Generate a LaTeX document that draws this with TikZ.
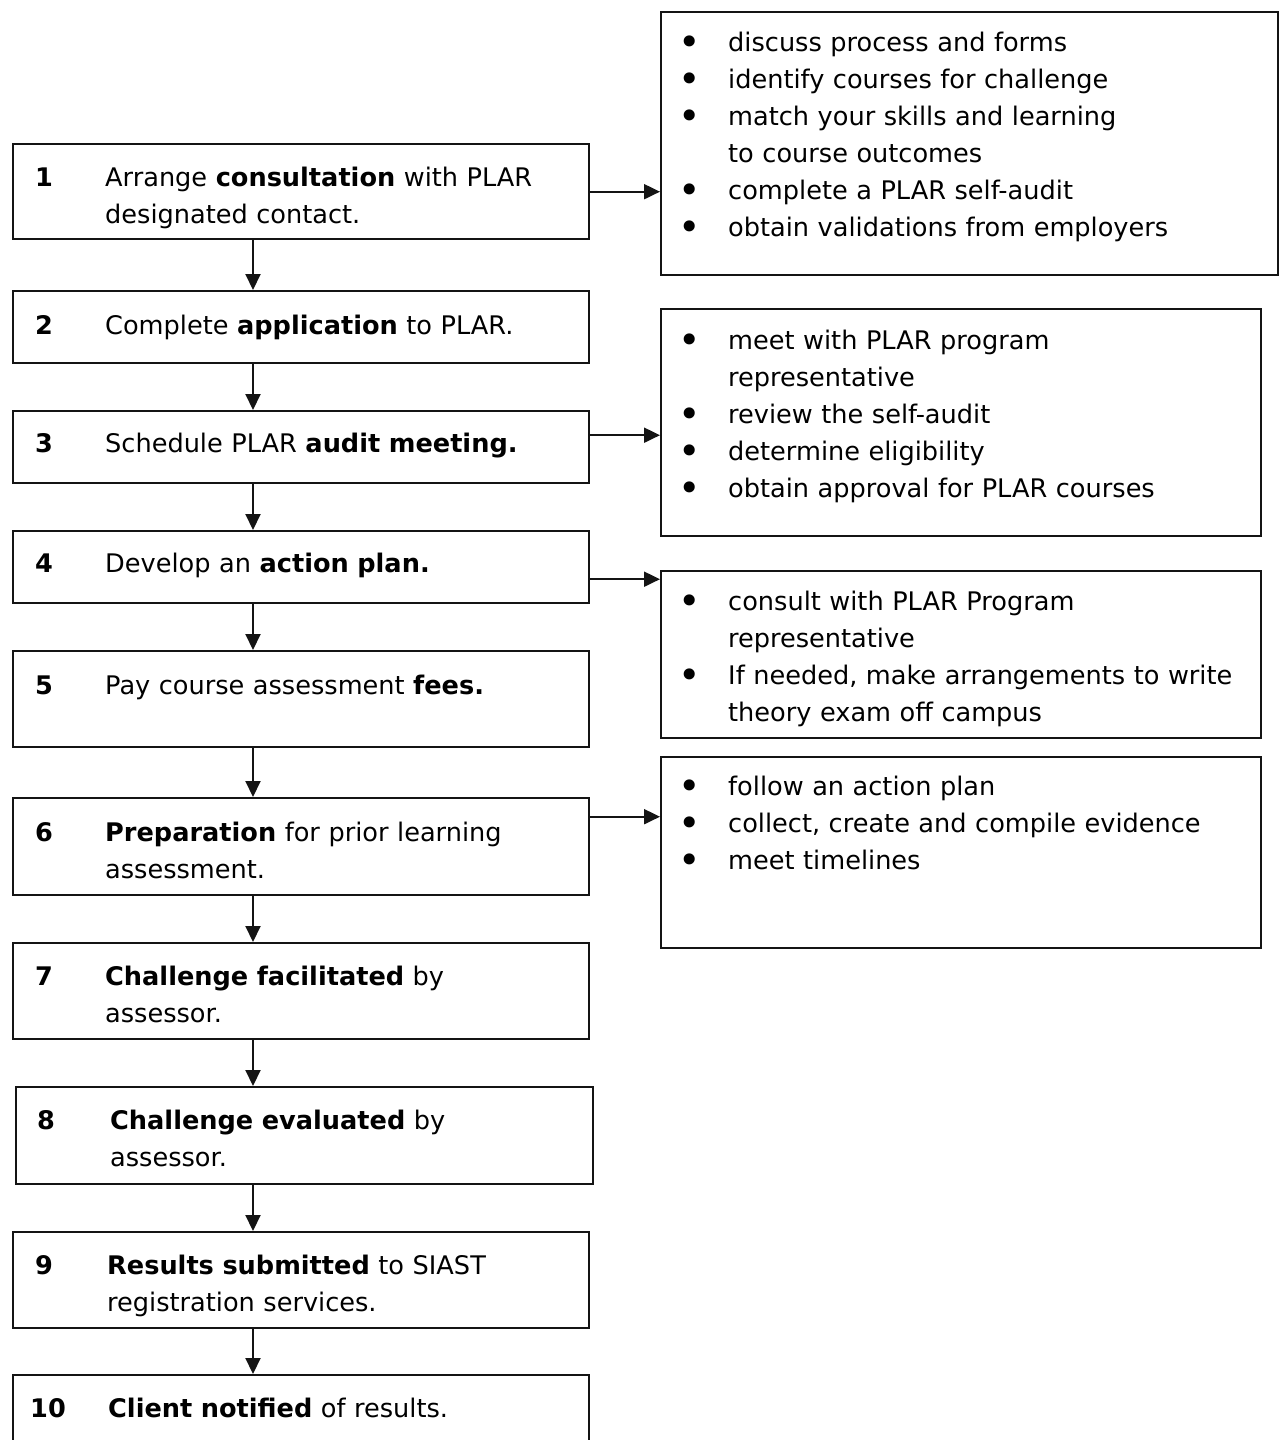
\documentclass[tikz,border=0pt]{standalone}
\usepackage{fontspec}
\setmainfont{DejaVu Sans}
\usetikzlibrary{arrows.meta}

\definecolor{edge}{RGB}{20,20,20}

\newcommand{\bodyfont}{\fontsize{25.6}{37}\selectfont}
\newcommand{\dotmark}{\raisebox{-4.5pt}{\fontsize{38}{37}\selectfont\textbullet}}
\newcommand{\itm}[1]{\makebox[48pt][l]{\hspace*{-2pt}\dotmark}#1}
\newcommand{\cnt}[1]{\hspace*{48pt}#1}

\begin{document}
\begin{tikzpicture}[x=1pt, y=-1pt, >={Triangle[length=16pt,width=15pt]},
  stepbox/.style={draw=edge, line width=2.4pt, minimum width=576pt, anchor=north west, inner sep=0pt},
  sidebox/.style={draw=edge, line width=2.4pt, minimum width=600pt, anchor=north west, inner sep=0pt},
  stepnum/.style={anchor=base west, inner sep=0pt, font=\bodyfont\bfseries},
  steptxt/.style={anchor=base west, inner sep=0pt, align=left, text width=470pt, font=\bodyfont},
  listtxt/.style={anchor=base west, inner sep=0pt, align=left, text width=590pt, font=\bodyfont},
  flow/.style={->, line width=2pt, edge}]
  \useasboundingbox (0,0) rectangle (1279,1440);
  \coordinate (ax) at (253,0);
  % pasos a la izquierda
  \node[stepbox, minimum height=95pt] (s1) at (12,143) {};
  \node[stepbox, minimum height=72pt] (s2) at (12,290) {};
  \node[stepbox, minimum height=72pt] (s3) at (12,410) {};
  \node[stepbox, minimum height=72pt] (s4) at (12,530) {};
  \node[stepbox, minimum height=96pt] (s5) at (12,650) {};
  \node[stepbox, minimum height=97pt] (s6) at (12,797) {};
  \node[stepbox, minimum height=96pt] (s7) at (12,942) {};
  \node[stepbox, minimum height=97pt, minimum width=577pt] (s8) at (15,1086) {};
  \node[stepbox, minimum height=96pt] (s9) at (12,1231) {};
  \node[stepbox, minimum height=96pt] (s10) at (12,1374) {};
  % numeros y textos
  \node[stepnum] (n1) at (35,186) {1};
  \node[steptxt] (t1) at (105,186) {Arrange \textbf{consultation} with PLAR\\designated contact.};
  \node[stepnum] (n2) at (35,334) {2};
  \node[steptxt] (t2) at (105,334) {Complete \textbf{application} to PLAR.};
  \node[stepnum] (n3) at (35,452) {3};
  \node[steptxt] (t3) at (105,452) {Schedule PLAR \textbf{audit meeting.}};
  \node[stepnum] (n4) at (35,572) {4};
  \node[steptxt] (t4) at (105,572) {Develop an \textbf{action plan.}};
  \node[stepnum] (n5) at (35,694) {5};
  \node[steptxt] (t5) at (105,694) {Pay course assessment \textbf{fees.}};
  \node[stepnum] (n6) at (35,841) {6};
  \node[steptxt] (t6) at (105,841) {\textbf{Preparation} for prior learning\\assessment.};
  \node[stepnum] (n7) at (35,985) {7};
  \node[steptxt] (t7) at (105,985) {\textbf{Challenge facilitated} by\\assessor.};
  \node[stepnum] (n8) at (37,1129) {8};
  \node[steptxt] (t8) at (110,1129) {\textbf{Challenge evaluated} by\\assessor.};
  \node[stepnum] (n9) at (35,1274) {9};
  \node[steptxt] (t9) at (107,1274) {\textbf{Results submitted} to SIAST\\registration services.};
  \node[stepnum] (n10) at (30,1417) {10};
  \node[steptxt] (t10) at (108,1417) {\textbf{Client notified} of results.};
  % cuadros de la derecha
  \node[sidebox, minimum width=617pt, minimum height=263pt] (r1) at (660,11) {};
  \node[sidebox, minimum height=227pt] (r2) at (660,308) {};
  \node[sidebox, minimum height=167pt] (r3) at (660,570) {};
  \node[sidebox, minimum height=191pt] (r4) at (660,756) {};
  \node[listtxt] (l1) at (680,51) {\itm{discuss process and forms}\\\itm{identify courses for challenge}\\
    \itm{match your skills and learning}\\\cnt{to course outcomes}\\\itm{complete a PLAR self-audit}\\
    \itm{obtain validations from employers}};
  \node[listtxt] (l2) at (680,349) {\itm{meet with PLAR program}\\\cnt{representative}\\
    \itm{review the self-audit}\\\itm{determine eligibility}\\\itm{obtain approval for PLAR courses}};
  \node[listtxt] (l3) at (680,610) {\itm{consult with PLAR Program}\\\cnt{representative}\\
    \itm{If needed, make arrangements to write}\\\cnt{theory exam off campus}};
  \node[listtxt] (l4) at (680,795) {\itm{follow an action plan}\\\itm{collect, create and compile evidence}\\
    \itm{meet timelines}};
  % flechas
  \foreach \a/\b in {1/2,2/3,3/4,4/5,5/6,6/7,7/8,8/9,9/10}
    \draw[flow] (s\a.south -| ax) -- (s\b.north -| ax);
  \coordinate (o1) at (s1.east);
  \coordinate (o3) at ([yshift=12pt]s3.east);
  \coordinate (o4) at ([yshift=-12pt]s4.east);
  \coordinate (o6) at ([yshift=30pt]s6.east);
  \draw[flow] (o1) -- (r1.west |- o1);
  \draw[flow] (o3) -- (r2.west |- o3);
  \draw[flow] (o4) -- (r3.west |- o4);
  \draw[flow] (o6) -- (r4.west |- o6);
\end{tikzpicture}
\end{document}
